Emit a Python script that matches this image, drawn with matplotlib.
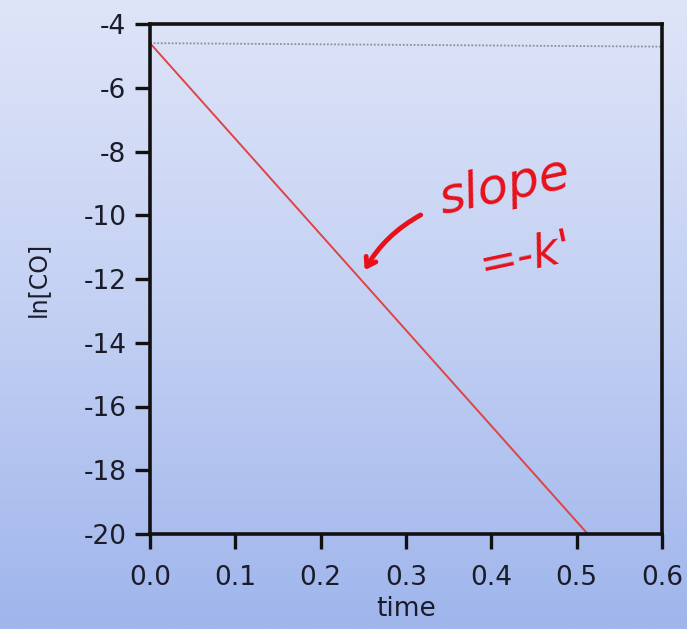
import numpy as np
import matplotlib
matplotlib.use("Agg")
import matplotlib.pyplot as plt
from matplotlib.colors import LinearSegmentedColormap

# data
time_line = [0.0, 0.513]
ln_co_line = [-4.6, -20.0]
time_ref = [0.0, 0.6]
ln_co_ref = [-4.6, -4.71]
x_ticks = [0.0, 0.1, 0.2, 0.3, 0.4, 0.5, 0.6]
y_ticks = [-4, -6, -8, -10, -12, -14, -16, -18, -20]

plt.rcParams['font.family'] = ['DejaVu Sans']

fig = plt.figure(figsize=(6.87, 6.29), dpi=100)

# gradient background
bg = fig.add_axes([0, 0, 1, 1], zorder=-10)
cmap = LinearSegmentedColormap.from_list("bg", ["#dfe5f8", "#c3d0f3", "#9fb5ec"])
grad = np.linspace(0, 1, 256).reshape(-1, 1)
bg.imshow(grad, aspect='auto', cmap=cmap, extent=[0, 1, 0, 1], origin='upper')
bg.axis('off')

ax = fig.add_axes([150/687, 1-534/629, (662-150)/687, (534-24)/629])
ax.patch.set_alpha(0)

ax.plot(time_ref, ln_co_ref, color='#8a8f99', lw=1.3, ls=(0, (1, 1)))
ax.plot(time_line, ln_co_line, color='#dd4444', lw=1.4)

ax.set_xlim(0, 0.6)
ax.set_ylim(-20, -4)
ax.set_xticks(x_ticks)
ax.set_xticklabels([f"{v:.1f}" for v in x_ticks])
ax.set_yticks(y_ticks)
ax.set_yticklabels([f"{v}" for v in y_ticks])
for s in ax.spines.values():
    s.set_linewidth(2.6)
    s.set_color('#111111')
ax.tick_params(direction='out', length=11, width=2.4, labelsize=19,
               color='#111111', labelcolor='#1a1c2a')
ax.tick_params(axis='x', pad=11)
ax.tick_params(axis='y', pad=6)
ax.set_xlabel("time", fontsize=19, labelpad=4, color='#1a1c2a')
ax.set_ylabel("ln[CO]", fontsize=17, labelpad=24, color='#1a1c2a')

# handwritten annotation
ax.text(0.415, -9.1, "slope", color='#e8101a', fontsize=36, rotation=12,
        ha='center', va='center', fontstyle='italic')
ax.text(0.44, -11.3, "=-k'", color='#e8101a', fontsize=33, rotation=12,
        ha='center', va='center', fontstyle='italic')
ax.annotate("", xy=(0.25, -11.8), xytext=(0.32, -9.95),
            arrowprops=dict(arrowstyle='->,head_length=0.6,head_width=0.4',
                            color='#e8101a', lw=3.5,
                            connectionstyle='arc3,rad=0.15'))

fig.savefig("out.png", dpi=100)
